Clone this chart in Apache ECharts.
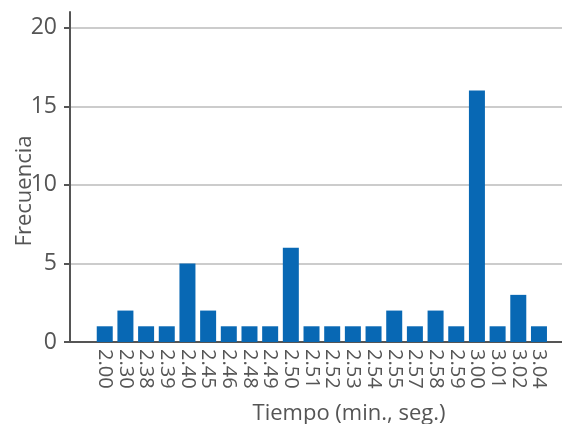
<!DOCTYPE html>
<html>
<head>
<meta charset="utf-8">
<script src="https://cdn.jsdelivr.net/npm/echarts@6/dist/echarts.min.js"></script>
<style>html,body{margin:0;padding:0;background:#fff;}#c{width:562px;height:424px;}</style>
</head>
<body>
<div id="c"></div>
<script>
const categories = ['2.00','2.30','2.38','2.39','2.40','2.45','2.46','2.48','2.49','2.50','2.51','2.52','2.53','2.54','2.55','2.57','2.58','2.59','3.00','3.01','3.02','3.04'];
const frecuencia = [1,2,1,1,5,2,1,1,1,6,1,1,1,1,2,1,2,1,16,1,3,1];
const yTicks = [0,5,10,15,20];

const txt = '#555555';
const font = '"Open Sans", "Noto Sans", sans-serif';
const chart = echarts.init(document.getElementById('c'));
chart.setOption({
  animation: false,
  grid: [
    {left: 70, right: 0, top: 12, bottom: 82, containLabel: false, outerBoundsMode: 'none'},
    {left: 94.4, right: 12.7, top: 12, bottom: 82, containLabel: false, outerBoundsMode: 'none'}
  ],
  xAxis: [
    {type: 'category', gridIndex: 0, data: [''],
     axisLine: {lineStyle: {color: '#555', width: 2}}, axisTick: {show: false}, axisLabel: {show: false},
     name: 'Tiempo (min., seg.)', nameLocation: 'middle', nameGap: 61, nameMoveOverlap: false,
     nameTextStyle: {color: txt, fontSize: 22, fontFamily: font, padding: [0, 0, 0, 66]}},
    {type: 'category', gridIndex: 1, data: categories,
     axisLine: {show: false}, axisTick: {show: false},
     axisLabel: {rotate: -90, color: txt, fontSize: 20, fontFamily: font, margin: 7, interval: 0}}
  ],
  yAxis: [
    {type: 'value', gridIndex: 0, min: 0, max: 21, interval: 5,
     axisLine: {show: true, lineStyle: {color: '#555', width: 2}},
     axisTick: {show: true, length: 6, customValues: yTicks, lineStyle: {color: '#555', width: 2}},
     axisLabel: {color: txt, fontSize: 23, fontFamily: font, margin: 13, customValues: yTicks},
     splitLine: {lineStyle: {color: '#cccccc', width: 2}},
     name: 'Frecuencia', nameLocation: 'middle', nameGap: 34, nameMoveOverlap: false,
     nameTextStyle: {color: txt, fontSize: 22, fontFamily: font, padding: [0, 28, 0, 0]}},
    {type: 'value', gridIndex: 1, min: 0, max: 21, interval: 5,
     axisLine: {show: false}, axisTick: {show: false}, axisLabel: {show: false}, splitLine: {show: false}}
  ],
  series: [{
    type: 'bar', xAxisIndex: 1, yAxisIndex: 1, data: frecuencia,
    barWidth: 16, itemStyle: {color: '#0868b4'}
  }]
});
</script>
</body>
</html>
